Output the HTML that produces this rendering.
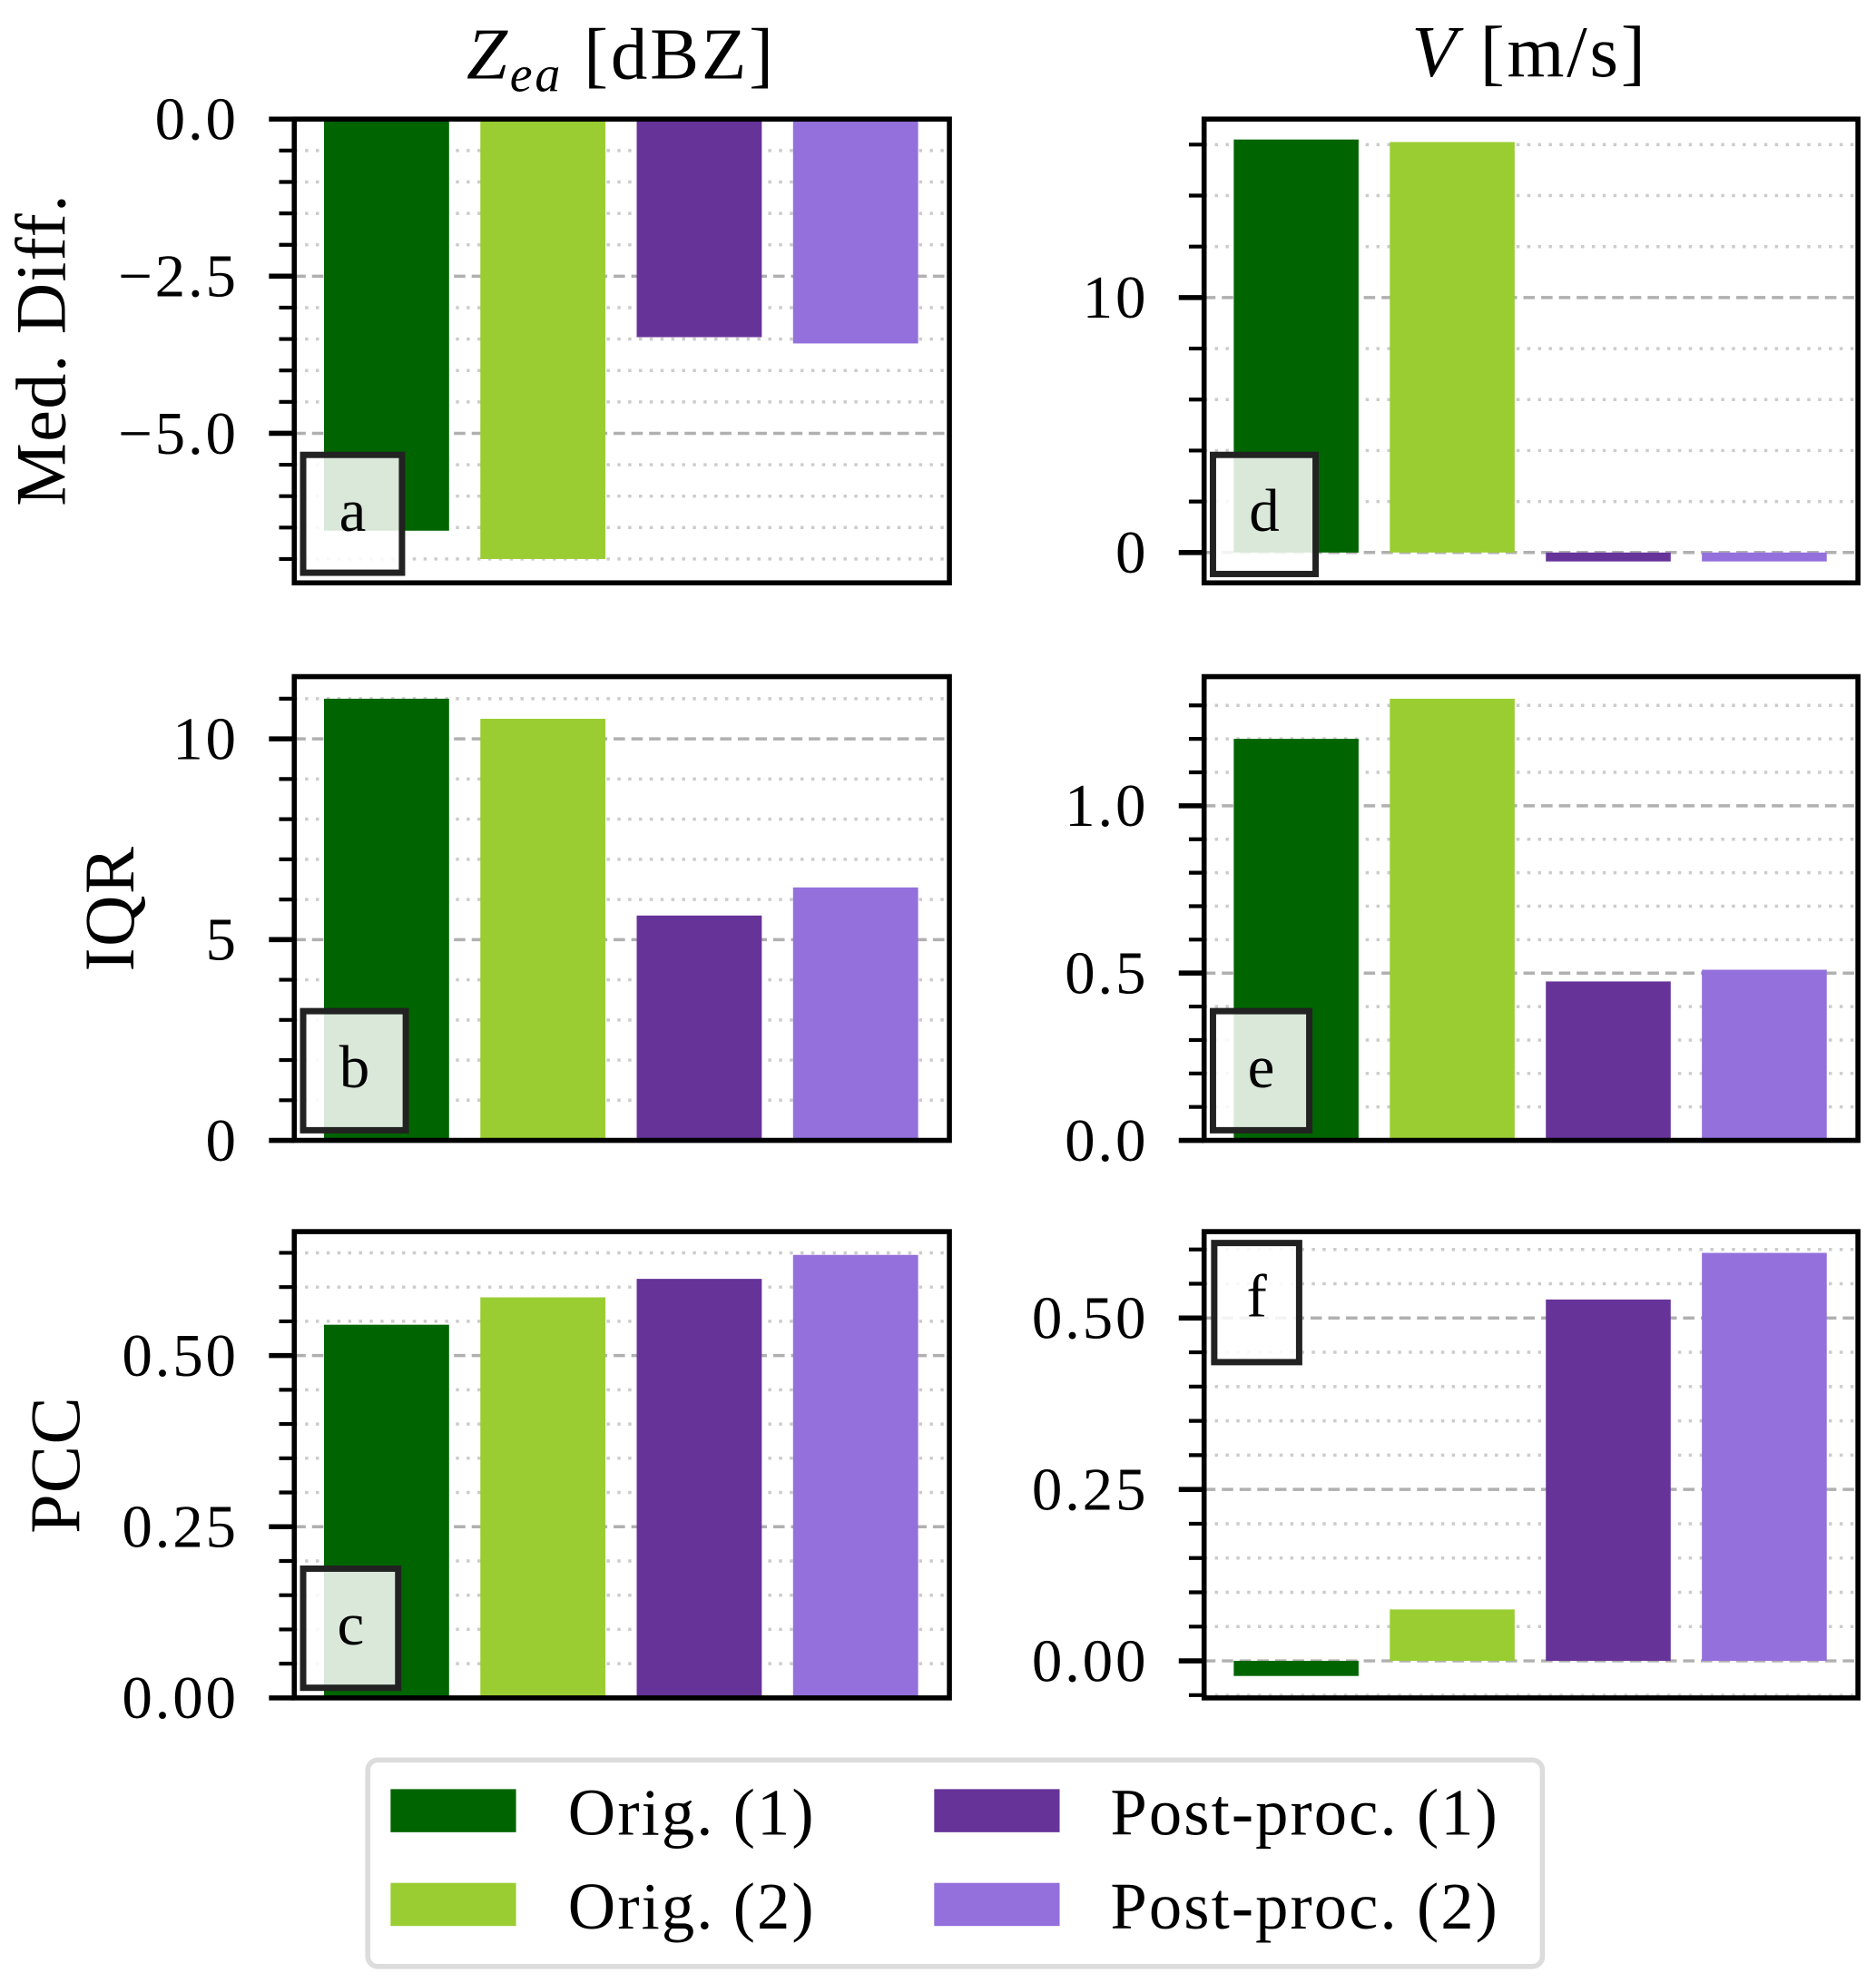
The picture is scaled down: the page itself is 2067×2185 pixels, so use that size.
<!DOCTYPE html>
<html><head><meta charset="utf-8">
<style>
html,body{margin:0;padding:0;background:#fff;}
svg{display:block;}
text{font-family:"Liberation Serif",serif;fill:#000;}
</style></head>
<body>
<svg id="fig" width="2067" height="2185" viewBox="0 0 1480 1565" xmlns="http://www.w3.org/2000/svg">
<text x="490" y="62" font-size="58" letter-spacing="2" text-anchor="middle"><tspan font-style="italic">Z</tspan><tspan font-style="italic" font-size="40" dy="10">ea</tspan><tspan dy="-10"> [dBZ]</tspan></text>
<text x="1207" y="60" font-size="58" letter-spacing="2" text-anchor="middle"><tspan font-style="italic">V</tspan> [m/s]</text>
<text transform="translate(51,276) rotate(-90)" font-size="56" letter-spacing="1" text-anchor="middle">Med. Diff.</text>
<text transform="translate(105,717) rotate(-90)" font-size="56" letter-spacing="1" text-anchor="middle">IQR</text>
<text transform="translate(62,1156) rotate(-90)" font-size="56" letter-spacing="1" text-anchor="middle">PCC</text>
<g id="panels"></g>
<g>
<rect x="290" y="1389" width="927" height="163" rx="8" fill="#fff" stroke="#dcdcdc" stroke-width="4"/>
<rect x="308" y="1412" width="99" height="34" fill="#006400"/>
<text x="448" y="1448" font-size="52" letter-spacing="1.5">Orig.  (1)</text>
<rect x="308" y="1486" width="99" height="34" fill="#9acd32"/>
<text x="448" y="1522" font-size="52" letter-spacing="1.5">Orig.  (2)</text>
<rect x="737" y="1412" width="99" height="34" fill="#663399"/>
<text x="876" y="1448" font-size="52" letter-spacing="1.5">Post-proc. (1)</text>
<rect x="737" y="1486" width="99" height="34" fill="#9370db"/>
<text x="876" y="1522" font-size="52" letter-spacing="1.5">Post-proc. (2)</text>
</g>
</svg>
<script>
const colors = ["#006400","#9acd32","#663399","#9370db"];
const seriesNames = ["orig-1","orig-2","post-1","post-2"];
const valsA = [-6.55, -7.0, -3.47, -3.57];
const valsB = [11.0, 10.5, 5.6, 6.3];
const valsC = [0.545, 0.585, 0.612, 0.647];
const valsD = [16.2, 16.1, -0.35, -0.35];
const valsE = [1.20, 1.32, 0.475, 0.51];
const valsF = [-0.022, 0.075, 0.527, 0.595];
const ticksA = [0, -2.5, -5.0];
const tickLabelsA = ["0.0","\u22122.5","\u22125.0"];
const ticksB = [0, 5, 10];
const tickLabelsB = ["0","5","10"];
const ticksC = [0, 0.25, 0.5];
const tickLabelsC = ["0.00","0.25","0.50"];
const ticksD = [0, 10];
const tickLabelsD = ["0","10"];
const ticksE = [0, 0.5, 1.0];
const tickLabelsE = ["0.0","0.5","1.0"];
const ticksF = [0, 0.25, 0.5];
const tickLabelsF = ["0.00","0.25","0.50"];

const NS="http://www.w3.org/2000/svg";
const root=document.getElementById('panels');
function mk(tag,attrs,parent){const e=document.createElementNS(NS,tag);for(const k in attrs)e.setAttribute(k,attrs[k]);(parent||root).appendChild(e);return e;}

const panels=[
 {id:'a',x0:232,x1:749,y0:94,y1:460,ymin:-7.38,ymax:0,minor:0.5,vals:valsA,ticks:ticksA,labels:tickLabelsA,box:[239,359,78,93],lblTop:false},
 {id:'b',x0:232,x1:749,y0:534,y1:900,ymin:0,ymax:11.55,minor:1,vals:valsB,ticks:ticksB,labels:tickLabelsB,box:[239,798,81,94],lblTop:false},
 {id:'c',x0:232,x1:749,y0:972,y1:1340,ymin:0,ymax:0.681,minor:0.05,vals:valsC,ticks:ticksC,labels:tickLabelsC,box:[239,1238,75,94],lblTop:false},
 {id:'d',x0:950,x1:1466,y0:94,y1:460,ymin:-1.19,ymax:17.0,minor:2,vals:valsD,ticks:ticksD,labels:tickLabelsD,box:[957,359,81,94],lblTop:false},
 {id:'e',x0:950,x1:1466,y0:534,y1:900,ymin:0,ymax:1.386,minor:0.1,vals:valsE,ticks:ticksE,labels:tickLabelsE,box:[957,798,76,94],lblTop:false},
 {id:'f',x0:950,x1:1466,y0:972,y1:1340,ymin:-0.054,ymax:0.626,minor:0.05,vals:valsF,ticks:ticksF,labels:tickLabelsF,box:[958,981,67,94],lblTop:true}
];
panels.forEach(p=>{
  const g=mk('g',{});
  
  
  const ys=v=>p.y1-(v-p.ymin)/(p.ymax-p.ymin)*(p.y1-p.y0);
  const xl=-0.59,xr=3.6;
  const xs=v=>p.x0+(v-xl)/(xr-xl)*(p.x1-p.x0);
  const start=Math.ceil(p.ymin/p.minor-1e-6);
  for(let k=start;k*p.minor<=p.ymax+1e-9;k++){
    const v=k*p.minor;const y=ys(v);
    const isMaj=p.ticks.some(t=>Math.abs(t-v)<1e-9);
    const ln=mk('line',{x1:p.x0,x2:p.x1,y1:y,y2:y,stroke:isMaj?'#b0b0b0':'#cccccc','stroke-width':2.5,'stroke-dasharray':isMaj?'9,5':'2.5,6'},g);
    
    
    const tk=mk('line',{x1:p.x0-(isMaj?20:12),x2:p.x0,y1:y,y2:y,stroke:'#000','stroke-width':isMaj?4:3},g);
    
    
  }
  p.ticks.forEach((t,i)=>{
    const tx=mk('text',{x:p.x0-44,y:ys(t)+16,'font-size':48,'letter-spacing':2,'text-anchor':'end'},g);
    tx.textContent=p.labels[i];
    
    
  });
  p.vals.forEach((v,i)=>{
    const ya=ys(v),yb=ys(0);
    const r=mk('rect',{x:xs(i-0.4),width:xs(i+0.4)-xs(i-0.4),y:Math.min(ya,yb),height:Math.abs(yb-ya),fill:colors[i]},g);
    
    
  });
  const fr=mk('rect',{x:p.x0,y:p.y0,width:p.x1-p.x0,height:p.y1-p.y0,fill:'none',stroke:'#000','stroke-width':4},g);
  
  
  const b=p.box;
  const bx=mk('rect',{x:b[0],y:b[1],width:b[2],height:b[3],fill:'rgba(255,255,255,0.85)',stroke:'#222','stroke-width':5},g);
  
  
  const lt=mk('text',{x:b[0]+b[2]/2,y:p.lblTop?b[1]+58:b[1]+60,'font-size':48,'text-anchor':'middle'},g);
  lt.textContent=p.id;
  
  
});
</script>
</body></html>
